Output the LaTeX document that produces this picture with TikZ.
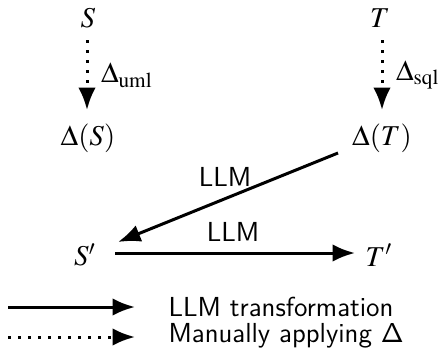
\documentclass[tikz,border=0pt]{standalone}
\usepackage{mathptmx}
\usetikzlibrary{arrows.meta}
\begin{document}
\begin{tikzpicture}[x=0.4pt,y=-0.4pt,
  lbl/.style={inner sep=0pt,font=\fontsize{11.5}{13}\selectfont},
  sflbl/.style={inner sep=0pt,font=\fontsize{11}{13}\sffamily},
  solidarr/.style={line width=1.2pt,-{Latex[length=9pt,width=7pt]}},
  dotarr/.style={line width=1.2pt,dash pattern=on 1.2pt off 2.8pt,-{Latex[length=9pt,width=7pt]}}]
\useasboundingbox (0,0) rectangle (438,354);
\node[lbl] (S) at (88,18) {$S$};
\node[lbl] (T) at (380,18) {$T$};
\node[lbl] (DS) at (88,138) {$\Delta(S)$};
\node[lbl] (DT) at (382,138) {$\Delta(T)$};
\node[lbl] (Sp) at (85,255) {$S'$};
\node[lbl] (Tp) at (379,255) {$T'$};
\coordinate (s1) at (87,40); \coordinate (s2) at (87,110);
\coordinate (t1) at (382,40); \coordinate (t2) at (382,110);
\draw[dotarr] (s1) -- node[lbl,right=5pt] {$\Delta_{\mathrm{uml}}$} (s2);
\draw[dotarr] (t1) -- node[lbl,right=5pt] {$\Delta_{\mathrm{sql}}$} (t2);
\coordinate (d1) at (338,153); \coordinate (d2) at (118,242);
\draw[solidarr] (d1) -- (d2);
\node[sflbl] (L1) at (225,177) {LLM};
\coordinate (h1) at (115,253); \coordinate (h2) at (355,253);
\draw[solidarr] (h1) -- (h2);
\node[sflbl] (L2) at (233,232) {LLM};
\coordinate (a1) at (8,307); \coordinate (a2) at (135,307);
\coordinate (b1) at (8,337); \coordinate (b2) at (135,337);
\draw[solidarr] (a1) -- (a2);
\draw[dotarr] (b1) -- (b2);
\node[sflbl,anchor=west] (leg1) at (168,307) {LLM transformation};
\node[sflbl,anchor=west] (leg2) at (168,336) {Manually applying $\mathsf{\Delta}$};
\end{tikzpicture}
\end{document}
